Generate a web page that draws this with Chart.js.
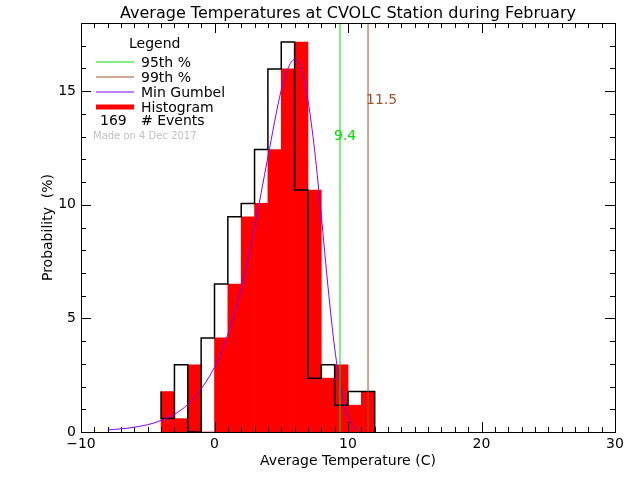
<!DOCTYPE html>
<html><head><meta charset="utf-8">
<script src="https://cdn.jsdelivr.net/npm/chart.js@4"></script>
<style>html,body{margin:0;background:#fff}canvas{display:block}</style>
</head><body>
<div style="width:640px;height:480px"><canvas id="c" width="640" height="480"></canvas></div>
<script>
const binStarts = [-4,-3,-2,-1,0,1,2,3,4,5,6,7,8,9,10,11];
const probs = [1.78,0.59,2.96,0,4.14,6.51,9.47,10.06,12.43,15.98,17.16,10.65,2.37,2.96,1.18,1.78];
const gumbelX = [-8,-6,-4,-2,0,1,2,3,4,5,5.5,6,6.5,7,7.5,8,8.5,9,9.5,10,10.5,10.7];
const gumbelY = [0.09,0.21,0.51,1.22,2.85,4.3,6.3,9.0,12.1,15.05,16.0,16.4,16.0,14.6,12.4,9.5,6.4,3.7,1.8,0.68,0.19,0.1];
const p95 = 9.4, p99 = 11.5;
const nEvents = 169;
const xTicks = [-10,0,10,20,30];
const yTicks = [0,5,10,15];
const FONT = '"DejaVu Sans", sans-serif';

const barData = binStarts.map((b,i)=>({x:b+0.5,y:probs[i]}));
const outline = binStarts.map((b,i)=>({x:b,y:probs[i]}));
outline.push({x:binStarts[binStarts.length-1]+1,y:probs[probs.length-1]});
outline.push({x:binStarts[binStarts.length-1]+1,y:0});
const gumbel = gumbelX.map((x,i)=>({x,y:gumbelY[i]}));

const deco = {
  id:'deco',
  afterDraw(ch){
    const c=ch.ctx, a=ch.chartArea, xs=ch.scales.x, ys=ch.scales.y;
    c.save();
    c.strokeStyle='#000'; c.lineWidth=1;
    c.strokeRect(a.left+0.5,a.top+0.5,a.right-a.left,a.bottom-a.top);
    c.beginPath();
    for(let v=-10;v<=30;v++){
      const px=Math.round(xs.getPixelForValue(v))+0.5, L=(v%10===0)?10:5;
      c.moveTo(px,a.bottom);c.lineTo(px,a.bottom-L);
      c.moveTo(px,a.top);c.lineTo(px,a.top+L);
    }
    for(let v=0;v<=18;v++){
      const py=Math.round(ys.getPixelForValue(v))+0.5, L=(v%5===0)?10:5;
      c.moveTo(a.left,py);c.lineTo(a.left+L,py);
      c.moveTo(a.right,py);c.lineTo(a.right-L,py);
    }
    c.stroke();
    c.fillStyle='#000'; c.font='14px '+FONT;
    c.textAlign='center'; c.textBaseline='top';
    xTicks.forEach(v=>c.fillText(String(v).replace('-','−'),xs.getPixelForValue(v),a.bottom+5));
    c.textAlign='right'; c.textBaseline='middle';
    yTicks.forEach(v=>c.fillText(String(v),a.left-5,ys.getPixelForValue(v)));
    c.textAlign='center'; c.textBaseline='top';
    c.fillText('Average Temperature (C)',(a.left+a.right)/2,454);
    c.save(); c.translate(48,(a.top+a.bottom)/2); c.rotate(-Math.PI/2);
    c.textBaseline='middle'; c.fillText('Probability  (%)',0,0); c.restore();
    c.font='16px '+FONT; c.textBaseline='alphabetic';
    c.fillText('Average Temperatures at CVOLC Station during February',(a.left+a.right)/2,18);
    // legend
    c.font='14px '+FONT; c.textAlign='left';
    c.fillText('Legend',129,48);
    const items=[['95th %','#00e000',1],['99th %','#a0522d',1],['Min Gumbel','#8000ff',1],['Histogram','#ff0000',5]];
    items.forEach((it,i)=>{
      const y=62+i*15;
      c.strokeStyle=it[1]; c.lineWidth=it[2];
      c.beginPath(); c.moveTo(96,y); c.lineTo(134,y); c.stroke();
      c.fillStyle='#000'; c.fillText(it[0],141,y+5);
    });
    c.fillText(String(nEvents),100,125); c.fillText('# Events',141,125);
    c.font='10px '+FONT; c.fillStyle='#c0c0c0';
    c.fillText('Made on 4 Dec 2017',93,139);
    c.font='14px '+FONT;
    c.fillStyle='#00e000'; c.fillText(String(p95),xs.getPixelForValue(p95)-6,140);
    c.fillStyle='#a0522d'; c.fillText(String(p99),xs.getPixelForValue(p99)-2,104);
    c.restore();
  }
};

new Chart(document.getElementById('c'),{
  type:'bar',
  data:{datasets:[
    {type:'line',data:[{x:p95,y:0},{x:p95,y:18}],borderColor:'#00e000',borderWidth:1,pointRadius:0,order:0},
    {type:'line',data:[{x:p99,y:0},{x:p99,y:18}],borderColor:'#a0522d',borderWidth:1,pointRadius:0,order:0},
    {type:'line',data:gumbel,borderColor:'#8000ff',borderWidth:1,pointRadius:0,tension:0.4,cubicInterpolationMode:'monotone',order:1},
    {type:'line',data:outline,stepped:'after',borderColor:'#000',borderWidth:1.5,pointRadius:0,order:2},
    {type:'bar',data:barData,backgroundColor:'#ff0000',borderWidth:0,barPercentage:1,categoryPercentage:1,grouped:false,order:3}
  ]},
  options:{
    responsive:false,animation:false,
    layout:{padding:{left:81,right:25,top:23,bottom:48}},
    plugins:{legend:{display:false},tooltip:{enabled:false}},
    scales:{
      x:{type:'linear',min:-10,max:30,display:false,offset:false},
      y:{type:'linear',min:0,max:18,display:false}
    }
  },
  plugins:[deco]
});
</script>
</body></html>
